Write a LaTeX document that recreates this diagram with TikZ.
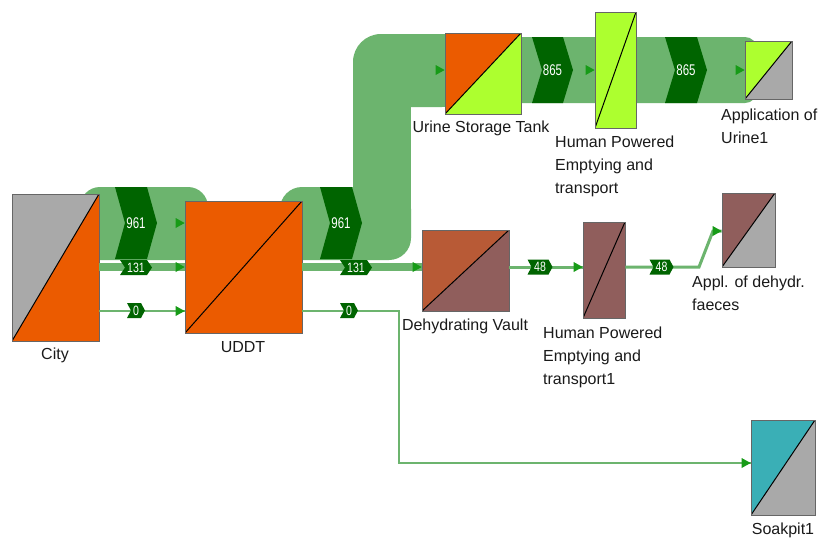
\documentclass[tikz,border=0pt]{standalone}
\usepackage{fontspec}
\setmainfont{Liberation Sans}
\usetikzlibrary{calc}
\definecolor{band}{HTML}{6CB46E}
\definecolor{chev}{HTML}{006400}
\definecolor{tipg}{HTML}{179B17}
\definecolor{cor}{HTML}{EB5B00}
\definecolor{cgray}{HTML}{A9A9A9}
\definecolor{clime}{HTML}{ADFF2F}
\definecolor{cbrown}{HTML}{905E5C}
\definecolor{crust}{HTML}{B85A36}
\definecolor{cteal}{HTML}{3AAFB6}
\definecolor{ctext}{HTML}{1A1A1A}
\newcommand\flowchev[8]{%
  \fill[chev] (#2-#4,#3-#5) -- (#2+#4-#6,#3-#5) -- (#2+#4,#3) -- (#2+#4-#6,#3+#5) -- (#2-#4,#3+#5) -- (#2-#4+#6,#3) -- cycle;
  \node[#7] (#1) at (#2,#3) {#8};}
\newcommand\tipat[1]{\fill[tipg] ($(#1)+(-9,-5)$) -- (#1) -- ($(#1)+(-9,5)$) -- cycle;}
\begin{document}
\begin{tikzpicture}[x=1pt,y=-1pt,
  proc/.style 2 args={rectangle, draw=black!60, line width=0.7pt, inner sep=0pt,
    path picture={
      \fill[#1] (path picture bounding box.north west) -- (path picture bounding box.north east) -- (path picture bounding box.south west) -- cycle;
      \fill[#2] (path picture bounding box.north east) -- (path picture bounding box.south east) -- (path picture bounding box.south west) -- cycle;
      \draw[black, line width=1pt] (path picture bounding box.south west) -- (path picture bounding box.north east);}},
  lbl/.style={font=\fontsize{16}{23}\selectfont, text=ctext, inner sep=0pt, align=left},
  bigt/.style={text=white, inner sep=0pt, font=\fontsize{15.5}{15}\selectfont},
  smallt/.style={text=white, inner sep=0pt, font=\fontsize{13.5}{13}\selectfont},
  flowline/.style={draw=band}]
\useasboundingbox (0,0) rectangle (820,542);
\fill[white] (0,0) rectangle (820,542);
% thick flow bands
\fill[band, rounded corners=20pt] (80,187) rectangle (208,260);
\fill[band, rounded corners=22pt] (280,187) rectangle (411,260);
\fill[band, rounded corners=28pt] (353,34) rectangle (470,107);
\fill[band] (353,70) rectangle (411,236);
\fill[band, rounded corners=12pt] (480,37) rectangle (757,103);
% nodes
\node[proc={cgray}{cor}, minimum width=87pt, minimum height=147pt] (city) at (55.5,267.5) {};
\node[proc={cor}{cor}, minimum width=117pt, minimum height=132pt] (uddt) at (243.5,267) {};
\node[proc={cor}{clime}, minimum width=76pt, minimum height=81pt] (ust) at (483,73.5) {};
\node[proc={clime}{clime}, minimum width=41pt, minimum height=116pt] (hp) at (615.5,70) {};
\node[proc={clime}{cgray}, minimum width=47pt, minimum height=58pt] (appu) at (768.5,70) {};
\node[proc={crust}{cbrown}, minimum width=87pt, minimum height=81pt] (dv) at (465.5,270.5) {};
\node[proc={cbrown}{cbrown}, minimum width=42pt, minimum height=96pt] (hp1) at (604,270) {};
\node[proc={cbrown}{cgray}, minimum width=53pt, minimum height=74pt] (appd) at (748.5,230) {};
\node[proc={cteal}{cgray}, minimum width=64pt, minimum height=95pt] (soak) at (783,467.5) {};
% labels
\node[lbl] (lcity) at (55,355) {City};
\node[lbl] (luddt) at (243,347) {UDDT};
\node[lbl] (lust) at (481,128) {Urine Storage Tank};
\node[lbl, anchor=west] (lhp) at (555,166) {Human Powered\\Emptying and\\transport};
\node[lbl, anchor=west] (lappu) at (721,126) {Application of\\Urine1};
\node[lbl] (ldv) at (465,326) {Dehydrating Vault};
\node[lbl, anchor=west] (lhp1) at (543,357) {Human Powered\\Emptying and\\transport1};
\node[lbl, anchor=west] (lappd) at (692,293) {Appl. of dehydr.\\faeces};
\node[lbl] (lsoak) at (783,530) {Soakpit1};
% thin flows
\draw[flowline, line width=8pt] (city.east |- 0,267) -- (uddt.west |- 0,267);
\draw[flowline, line width=8pt] (uddt.east |- 0,267) -- (dv.west |- 0,267);
\draw[flowline, line width=2.2pt] (city.east |- 0,311) -- (uddt.west |- 0,311);
\draw[flowline, line width=2.2pt] (uddt.east |- 0,311) -- (399,311) |- (soak.west |- 0,463);
\draw[flowline, line width=3pt] (dv.east |- 0,267) -- (hp1.west |- 0,267);
\draw[flowline, line width=3pt] (hp1.east |- 0,267) -- (699,267) -- (713,231) -- (appd.west |- 0,231);
% flow labels
\flowchev{c961a}{136}{223}{21}{36}{10}{bigt}{\scalebox{0.74}[1]{961}}
\flowchev{c961b}{341}{223}{21}{36}{10}{bigt}{\scalebox{0.74}[1]{961}}
\flowchev{c865a}{552.5}{70}{20.5}{33}{10}{bigt}{\scalebox{0.74}[1]{865}}
\flowchev{c865b}{686}{70}{21}{33}{10}{bigt}{\scalebox{0.74}[1]{865}}
\flowchev{c131a}{136}{267.5}{16}{7.5}{5}{smallt}{\scalebox{0.78}[1]{131}}
\flowchev{c131b}{356}{267.5}{16}{7.5}{5}{smallt}{\scalebox{0.78}[1]{131}}
\flowchev{c0a}{136}{310.5}{9}{7.5}{4}{smallt}{\scalebox{0.78}[1]{0}}
\flowchev{c0b}{349}{310.5}{9}{7.5}{4}{smallt}{\scalebox{0.78}[1]{0}}
\flowchev{c48a}{540}{267}{12.5}{7.5}{4}{smallt}{\scalebox{0.78}[1]{48}}
\flowchev{c48b}{661.5}{267}{12}{7.5}{4}{smallt}{\scalebox{0.78}[1]{48}}
% arrow tips
\coordinate (t1) at (uddt.west |- 0,223);
\coordinate (t2) at (uddt.west |- 0,267);
\coordinate (t3) at (uddt.west |- 0,311);
\coordinate (t4) at (dv.west |- 0,267);
\coordinate (t5) at (hp1.west |- 0,267);
\coordinate (t6) at (appd.west |- 0,231);
\coordinate (t7) at (ust.west |- 0,70);
\coordinate (t8) at (hp.west |- 0,70);
\coordinate (t9) at (appu.west |- 0,70);
\coordinate (t10) at (soak.west |- 0,463);
\tipat{t1}\tipat{t2}\tipat{t3}\tipat{t4}\tipat{t5}
\tipat{t6}\tipat{t7}\tipat{t8}\tipat{t9}\tipat{t10}
\end{tikzpicture}
\end{document}
